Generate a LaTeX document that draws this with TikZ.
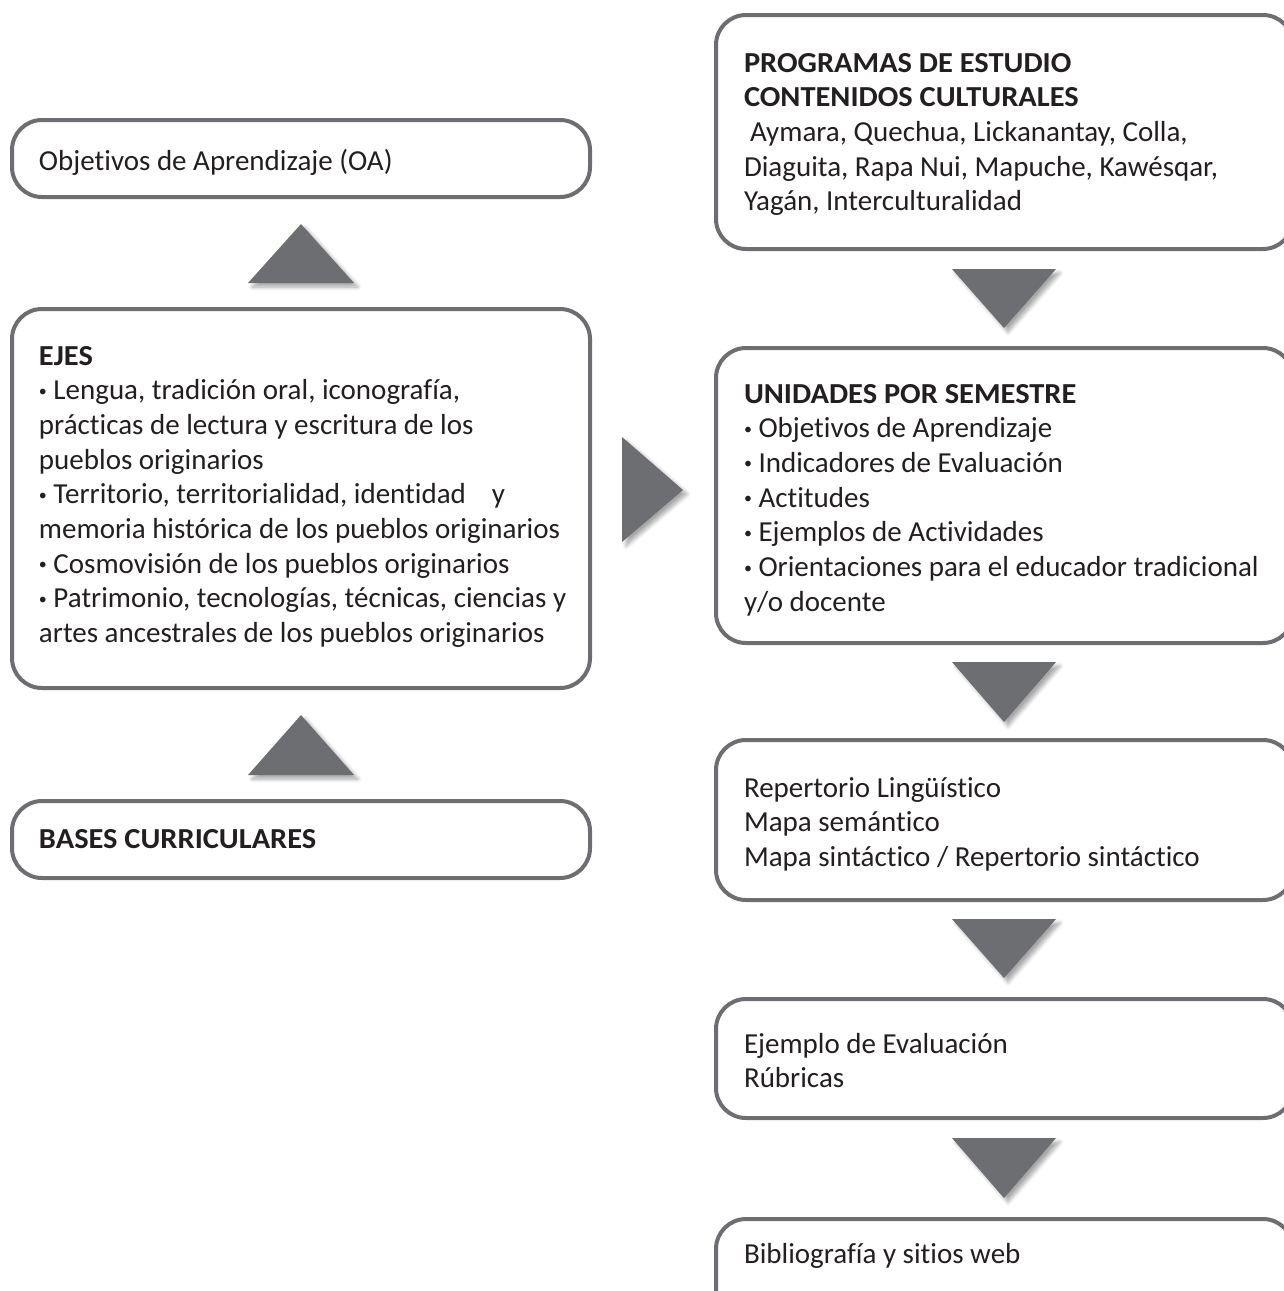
\documentclass[tikz,border=0pt]{standalone}
\usepackage{fontspec}
\usepackage{graphicx}
\setmainfont{Carlito}[Ligatures=CommonOff, BoldFeatures={FakeStretch=1.05}]
\usetikzlibrary{shadows.blur}
\definecolor{bordergray}{HTML}{6D6E71}
\definecolor{trigray}{HTML}{6D6E71}
\definecolor{txtc}{HTML}{231F20}
\tikzset{
  box/.style={draw=bordergray, line width=2pt, rounded corners=15pt, fill=white, inner sep=0pt, outer sep=0pt},
  txt/.style={anchor=base west, inner sep=0pt, outer sep=0pt, text=txtc},
  tri/.style={fill=trigray, blur shadow={shadow xshift=2pt, shadow yshift=-2pt, shadow opacity=35, shadow blur steps=6}},
}
\newcommand\tb[2]{\parbox[t]{#1}{\fontsize{14.5pt}{17.35pt}\selectfont\raggedright #2}}
\newcommand\bul{\raisebox{0.25ex}{\scalebox{0.55}{•}}\ }
\begin{document}
\begin{tikzpicture}[x=0.5pt,y=-0.5pt]
\useasboundingbox (0,0) rectangle (1284,1291);
\clip (0,0) rectangle (1284,1291);
% left column boxes
\node[box, minimum width=289pt, minimum height=38.5pt] (oa) at (301,158.5) {};
\node[box, minimum width=289pt, minimum height=189.5pt] (ejes) at (301,498.5) {};
\node[box, minimum width=289pt, minimum height=38.5pt] (bases) at (301,839.5) {};
% right column boxes
\node[box, minimum width=288.5pt, minimum height=117pt] (prog) at (1004.5,132) {};
\node[box, minimum width=288.5pt, minimum height=147.5pt] (uni) at (1004.5,495.5) {};
\node[box, minimum width=288.5pt, minimum height=80pt] (rep) at (1004.5,820) {};
\node[box, minimum width=288.5pt, minimum height=59.5pt] (ej) at (1004.5,1058.5) {};
\node[box, minimum width=288.5pt, minimum height=60pt] (bib) at (1004.5,1279) {};
% texts
\node[txt] (oat) at (39,170) {\tb{280pt}{Objetivos de Aprendizaje (OA)}};
\node[txt] (ejest) at (39,365) {\tb{285pt}{\textbf{EJES}\\
\bul Lengua, tradición oral, iconografía,\\
prácticas de lectura y escritura de los\\
pueblos originarios\\
\bul Territorio, territorialidad, identidad\hspace{13pt}y\\
memoria histórica de los pueblos originarios\\
\bul Cosmovisión de los pueblos originarios\\
\bul Patrimonio, tecnologías, técnicas, ciencias y\\
artes ancestrales de los pueblos originarios}};
\node[txt] (basest) at (39,848) {\tb{280pt}{\textbf{BASES CURRICULARES}}};
\node[txt] (progt) at (744,72) {\tb{300pt}{\textbf{PROGRAMAS DE ESTUDIO}\\
\textbf{CONTENIDOS CULTURALES}\\
\hspace*{3pt}Aymara, Quechua, Lickanantay, Colla,\\
Diaguita, Rapa Nui, Mapuche, Kawésqar,\\
Yagán, Interculturalidad}};
\node[txt] (unit) at (744,403) {\tb{300pt}{\textbf{UNIDADES POR SEMESTRE}\\
\bul Objetivos de Aprendizaje\\
\bul Indicadores de Evaluación\\
\bul Actitudes\\
\bul Ejemplos de Actividades\\
\bul Orientaciones para el educador tradicional\\
y/o docente}};
\node[txt] (rept) at (744,797) {\tb{300pt}{Repertorio Lingüístico\\
Mapa semántico\\
Mapa sintáctico / Repertorio sintáctico}};
\node[txt] (ejt) at (744,1053) {\tb{300pt}{Ejemplo de Evaluación\\
Rúbricas}};
\node[txt] (bibt) at (744,1263) {\tb{300pt}{Bibliografía y sitios web}};
% triangles
\fill[tri] (248,283) -- (301,224) -- (354,283) -- cycle;
\fill[tri] (248,775) -- (301,715) -- (354,775) -- cycle;
\fill[tri] (622,437) -- (683,490) -- (622,542) -- cycle;
\fill[tri] (952,269) -- (1004,328) -- (1056,269) -- cycle;
\fill[tri] (952,662) -- (1004,722) -- (1056,662) -- cycle;
\fill[tri] (952,919) -- (1004,978) -- (1056,919) -- cycle;
\fill[tri] (952,1138) -- (1004,1198) -- (1056,1138) -- cycle;
\end{tikzpicture}
\end{document}
